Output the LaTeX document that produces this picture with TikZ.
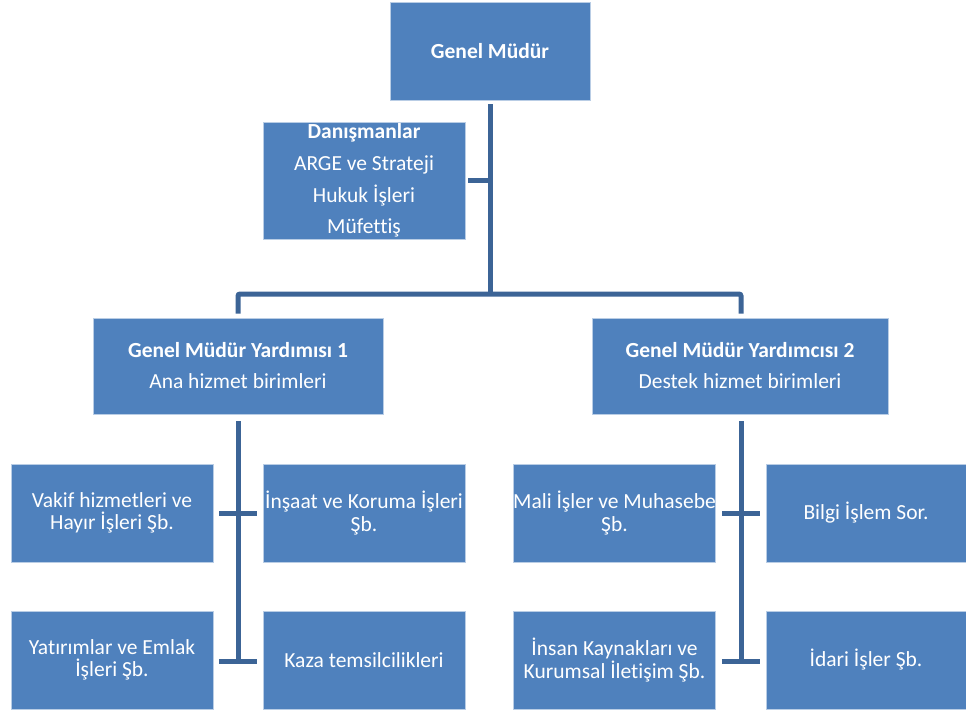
\documentclass[tikz,border=0pt]{standalone}
\usepackage{fontspec}
\setmainfont{Carlito}[Ligatures={NoCommon}]
\usetikzlibrary{calc}
\definecolor{boxfill}{RGB}{79,129,189}
\definecolor{boxedge}{RGB}{185,205,229}
\definecolor{linkc}{RGB}{60,100,150}
\begin{document}
\begin{tikzpicture}[x=1pt,y=-1pt,
  box/.style={fill=boxfill,draw=boxedge,line width=0.8pt,text=white,align=center,
    inner sep=0pt,font=\fontsize{21.5}{22.5}\selectfont},
  small/.style={box,minimum width=202pt,minimum height=98pt},
  link/.style={draw=linkc,line width=5pt}]
\useasboundingbox (0,0) rectangle (966,713);

\node[box,minimum width=200pt,minimum height=98pt,font=\fontsize{21.5}{22}\selectfont\bfseries] (gm) at (490,51) {Genel Müdür};
\node[box,minimum width=202pt,minimum height=117pt,font=\fontsize{21.5}{31.7}\selectfont] (dan) at (364,180.5)
  {\textbf{Danışmanlar}\\ARGE ve Strateji\\Hukuk İşleri\\Müfettiş};
\node[box,minimum width=290pt,minimum height=96pt,font=\fontsize{21.5}{31}\selectfont] (gmy1) at (238,366)
  {\textbf{Genel Müdür Yardımısı 1}\\Ana hizmet birimleri};
\node[box,minimum width=296pt,minimum height=96pt,font=\fontsize{21.5}{31}\selectfont] (gmy2) at (740,366)
  {\textbf{Genel Müdür Yardımcısı 2}\\Destek hizmet birimleri};

\node[small] (vak) at (112,513) {Vakif hizmetleri ve\\Hayır İşleri Şb.};
\node[small] (ins) at (364,513) {İnşaat ve Koruma İşleri\\Şb.};
\node[small] (mali) at (614.5,513) {Mali İşler ve Muhasebe\\Şb.};
\node[small,minimum width=200pt] (bil) at (866,513) {Bilgi İşlem Sor.};
\node[small] (yat) at (112,660) {Yatırımlar ve Emlak\\İşleri Şb.};
\node[small] (kaza) at (364,660) {Kaza temsilcilikleri};
\node[small] (insan) at (614.5,660) {İnsan Kaynakları ve\\Kurumsal İletişim Şb.};
\node[small,minimum width=200pt] (idari) at (866,660) {İdari İşler Şb.};

% junction coordinates
\coordinate (gmtop) at ($(gm.south)+(0,4)$);
\coordinate (bar) at (490,294);
\coordinate (danj) at (490,180.5);
\coordinate (barL) at (238,294);
\coordinate (barR) at (741,294);
\coordinate (g1top) at ($(gmy1.north)+(0,-4)$);
\coordinate (g2top) at ($(gmy2.north)+(1,-4)$);
\coordinate (g1bot) at ($(gmy1.south)+(0,7)$);
\coordinate (g2bot) at ($(gmy2.south)+(1,7)$);
\coordinate (l1) at (238,513);
\coordinate (l2) at (238,661);
\coordinate (r1) at (741,513);
\coordinate (r2) at (741,661);

\draw[link] (gmtop) -- (bar);
\draw[link] ($(dan.east)+(3,0)$) -- (danj);
\draw[link,rounded corners=2pt] (g1top) -- (barL) -- (barR) -- (g2top);

\draw[link] (g1bot) -- (l2);
\draw[link] ($(vak.east)+(6,0)$) -- ($(ins.west)+(-6,0)$);
\draw[link] ($(yat.east|-l2)+(6,0)$) -- ($(kaza.west|-l2)+(-6,0)$);

\draw[link] (g2bot) -- (r2);
\draw[link] ($(mali.east)+(6,0)$) -- ($(bil.west)+(-6,0)$);
\draw[link] ($(insan.east|-r2)+(6,0)$) -- ($(idari.west|-r2)+(-6,0)$);
\end{tikzpicture}
\end{document}
